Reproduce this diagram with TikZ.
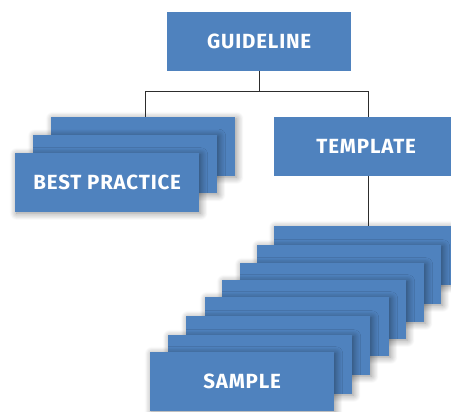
\documentclass[tikz,border=0pt]{standalone}
\usepackage{fontspec}
\setmainfont{Fira Sans}[LetterSpace=4]
\usetikzlibrary{shadows.blur,calc}
\definecolor{boxblue}{RGB}{79,130,190}
\definecolor{linegray}{RGB}{45,45,45}
\tikzset{
  box/.style={fill=boxblue, minimum width=184pt, minimum height=58.5pt, inner sep=0pt,
    anchor=north west, text=white, font=\bfseries\fontsize{20.5}{24}\selectfont},
  stackbox/.style={box, blur shadow={shadow xshift=1.5pt, shadow yshift=-1.5pt,
    shadow blur radius=7pt, shadow blur steps=12, shadow opacity=45}},
  link/.style={draw=linegray, line width=1.2pt}
}
\begin{document}
\begin{tikzpicture}[x=1pt,y=-1pt]
\useasboundingbox (0,0) rectangle (451,412);
\clip (0,0) rectangle (451,412);
% top
\node[box] (g) at (167,12) {GUIDELINE};
% best practice stack
\node[stackbox] (bp1) at (51,117) {};
\node[stackbox] (bp2) at (33,134.5) {};
\node[stackbox] (bp3) at (15,153) {BEST PRACTICE};
% template
\node[box] (t) at (274,117) {TEMPLATE};
% sample stack
\node[stackbox] (s1) at (274,226) {};
\node[stackbox] (s2) at (257,245) {};
\node[stackbox] (s3) at (240,263) {};
\node[stackbox] (s4) at (222,280) {};
\node[stackbox] (s5) at (205,297) {};
\node[stackbox] (s6) at (186,316) {};
\node[stackbox] (s7) at (168,335) {};
\node[stackbox] (s8) at (150,352) {SAMPLE};
% connectors
\coordinate (j) at ($(g.south)+(0,21)$);
\draw[link] (g.south) -- (j) -| ([xshift=2pt]bp1.north);
\draw[link] (j) -| ([xshift=2.5pt]t.north);
\draw[link] ([xshift=2.5pt]t.south) -- ([xshift=2.5pt]s1.north);
\end{tikzpicture}
\end{document}
